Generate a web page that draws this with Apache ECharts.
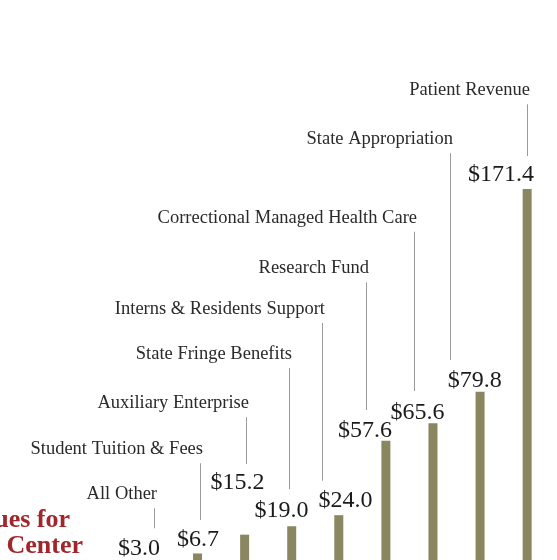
<!DOCTYPE html>
<html>
<head>
<meta charset="utf-8">
<script src="https://cdn.jsdelivr.net/npm/echarts@6/dist/echarts.min.js"></script>
<style>
html,body{margin:0;padding:0;background:#fff;}
#chart{width:557px;height:560px;}
</style>
</head>
<body>
<div id="chart"></div>
<script>
// ---- data ----
const categories = ['All Other', 'Student Tuition & Fees', 'Auxiliary Enterprise', 'State Fringe Benefits',
  'Interns & Residents Support', 'Research Fund', 'Correctional Managed Health Care',
  'State Appropriation', 'Patient Revenue'];
const values = [3.0, 6.7, 15.2, 19.0, 24.0, 57.6, 65.6, 79.8, 171.4];
const valueLabels = ['$3.0', '$6.7', '$15.2', '$19.0', '$24.0', '$57.6', '$65.6', '$79.8', '$171.4'];
const titleLines = ['ues for', 'Center'];

// ---- annotation layout (offsets relative to each bar top) ----
const valDx = [-11.4, 0.5, -7.1, -10.2, 6.7, -20.9, -15.5, -5.3, -26.1];
const valDy = [-13.2, -14, -51.7, -15.8, -14.2, -10.3, -10.6, -11.2, -14.5];
const leadDx = [3.9, 2.5, 1.1, -2.7, -17.1, -20.2, -19, -29.7, -0.4];
const leadTop = [-53.4, -90.2, -117.4, -158.3, -192.2, -158.5, -191.4, -238.4, -84.7];
const leadBot = [-33.4, -33.5, -70.7, -37, -34.5, -30.8, -32.1, -31.7, -33];

const SERIF = '"Liberation Serif", "DejaVu Serif", serif';
const BAR = '#8a8660';

const chart = echarts.init(document.getElementById('chart'), null, {renderer: 'canvas'});
chart.setOption({
  animation: false,
  backgroundColor: '#ffffff',
  // the value axis starts slightly above zero: the bars' base lies just below the picture's edge
  grid: {left: 126.9, width: 423.8, top: 125.7, bottom: 0},
  xAxis: {type: 'category', data: categories, show: false},
  yAxis: {type: 'value', min: 3.75, max: 200, show: false},
  graphic: [
    {type: 'text', x: 70, y: 520, style: {text: titleLines[0], font: 'bold 26px ' + SERIF, fill: '#a0262b', align: 'right', verticalAlign: 'middle'}},
    {type: 'text', x: 83, y: 546, style: {text: titleLines[1], font: 'bold 26px ' + SERIF, fill: '#a0262b', align: 'right', verticalAlign: 'middle'}}
  ],
  series: [
    {
      type: 'bar',
      data: values,
      barWidth: 9,
      itemStyle: {color: BAR},
      silent: true
    },
    {
      type: 'custom',
      data: values.map((v, i) => [i, v]),
      silent: true,
      clip: false,
      renderItem: function (params, api) {
        const i = params.dataIndex;
        const p = api.coord([api.value(0), api.value(1)]);
        const cx = p[0], top = p[1];
        const lx = Math.round(cx + leadDx[i]) + 0.5;
        return {
          type: 'group',
          children: [
            {type: 'line', shape: {x1: lx, y1: top + leadTop[i], x2: lx, y2: top + leadBot[i]},
             style: {stroke: '#9a9a9a', lineWidth: 1}},
            {type: 'text', style: {text: categories[i], x: lx + 2.5, y: top + leadTop[i] - 13.8,
              font: '18.5px ' + SERIF, fill: '#2a2a2a', align: 'right', verticalAlign: 'middle'}},
            {type: 'text', style: {text: valueLabels[i], x: cx + valDx[i], y: top + valDy[i],
              font: '24px ' + SERIF, fill: '#1a1a1a', align: 'center', verticalAlign: 'middle'}}
          ]
        };
      }
    }
  ]
});
</script>
</body>
</html>
